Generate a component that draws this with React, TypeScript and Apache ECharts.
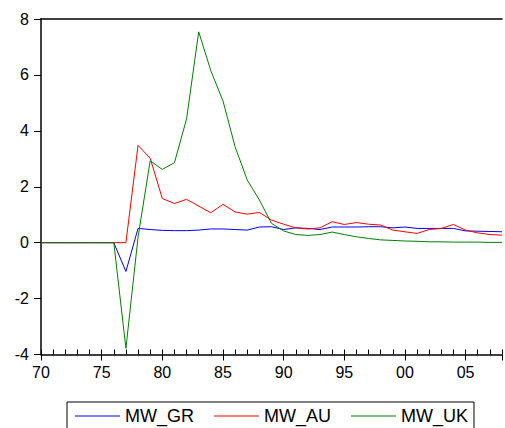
import React, { useEffect, useRef } from "react";
import * as echarts from "echarts";

const years = [
  1970, 1971, 1972, 1973, 1974, 1975, 1976, 1977, 1978, 1979,
  1980, 1981, 1982, 1983, 1984, 1985, 1986, 1987, 1988, 1989,
  1990, 1991, 1992, 1993, 1994, 1995, 1996, 1997, 1998, 1999,
  2000, 2001, 2002, 2003, 2004, 2005, 2006, 2007, 2008,
];

const mwGR = [
  0, 0, 0, 0, 0, 0, 0, -1.03, 0.51, 0.47,
  0.44, 0.43, 0.43, 0.45, 0.49, 0.49, 0.47, 0.45, 0.56, 0.57,
  0.47, 0.53, 0.51, 0.47, 0.56, 0.56, 0.56, 0.57, 0.57, 0.53,
  0.56, 0.51, 0.51, 0.51, 0.51, 0.42, 0.41, 0.40, 0.39,
];

const mwAU = [
  0, 0, 0, 0, 0, 0, 0, 0, 3.48, 3.02,
  1.58, 1.40, 1.55, 1.31, 1.07, 1.37, 1.10, 1.02, 1.08, 0.81,
  0.66, 0.53, 0.49, 0.53, 0.75, 0.65, 0.72, 0.66, 0.63, 0.45,
  0.39, 0.33, 0.47, 0.51, 0.65, 0.45, 0.35, 0.29, 0.27,
];

const mwUK = [
  0, 0, 0, 0, 0, 0, 0, -3.78, 0.2, 2.93,
  2.62, 2.86, 4.43, 7.54, 6.15, 5.07, 3.43, 2.24, 1.53, 0.69,
  0.42, 0.29, 0.26, 0.29, 0.38, 0.29, 0.21, 0.15, 0.10, 0.08,
  0.06, 0.05, 0.03, 0.03, 0.02, 0.02, 0.02, 0.01, 0.01,
];

const seriesNames = ["MW_GR", "MW_AU", "MW_UK"];
const seriesColors = ["#0000ff", "#ff0000", "#008000"];
const tickYears = [1970, 1975, 1980, 1985, 1990, 1995, 2000, 2005];
const tickLabels = ["70", "75", "80", "85", "90", "95", "00", "05"];

export default function App() {
  const ref = useRef<HTMLDivElement>(null);
  useEffect(() => {
    if (!ref.current) return;
    const chart = echarts.init(ref.current, null, { renderer: "svg" });
    const font = "Liberation Sans";
    const lineCol = "#000";
    const allData = [mwGR, mwAU, mwUK];
    chart.setOption({
      animation: false,
      backgroundColor: "#fff",
      grid: { left: 41, top: 19, right: 0, bottom: 73.5, containLabel: false },
      xAxis: [
        {
          type: "value",
          min: 1970,
          max: 2008,
          interval: 5,
          position: "bottom",
          axisLine: { show: true, onZero: false, lineStyle: { color: lineCol, width: 1.5 } },
          axisTick: { show: true, length: 6, lineStyle: { color: lineCol, width: 1 } },
          axisLabel: {
            fontSize: 16,
            fontFamily: font,
            color: "#000",
            margin: 10,
            formatter: (v: number) => {
              const i = tickYears.indexOf(v);
              return i >= 0 ? tickLabels[i] : "";
            },
          },
          splitLine: { show: false },
        },
        {
          type: "value",
          min: 1970,
          max: 2008,
          interval: 1,
          position: "bottom",
          axisLine: { show: false, onZero: false },
          axisTick: { show: true, inside: true, length: 5, lineStyle: { color: lineCol, width: 1 } },
          axisLabel: { show: false },
          splitLine: { show: false },
        },
        {
          type: "value",
          min: 1970,
          max: 2008,
          position: "top",
          axisLine: { show: true, onZero: false, lineStyle: { color: lineCol, width: 1.5 } },
          axisTick: { show: false },
          axisLabel: { show: false },
          splitLine: { show: false },
        },
      ],
      yAxis: {
        type: "value",
        min: -4,
        max: 8,
        interval: 2,
        axisLine: { show: true, onZero: false, lineStyle: { color: lineCol, width: 1.5 } },
        axisTick: { show: true, length: 7, lineStyle: { color: lineCol, width: 1 } },
        axisLabel: { fontSize: 16, fontFamily: font, color: "#000", margin: 12 },
        splitLine: { show: false },
      },
      legend: {
        top: 402,
        left: 67,
        orient: "horizontal",
        padding: [5, 6, 5, 8],
        itemGap: 20,
        itemWidth: 45,
        itemHeight: 1,
        icon: "rect",
        borderColor: "#000",
        borderWidth: 1,
        textStyle: { fontSize: 18, fontFamily: font, color: "#000" },
        data: seriesNames,
      },
      series: seriesNames.map((name, k) => ({
        name,
        type: "line",
        xAxisIndex: 0,
        symbol: "none",
        color: seriesColors[k],
        lineStyle: { width: 1, color: seriesColors[k] },
        data: years.map((y, i) => [y, allData[k][i]]),
      })),
    });
    return () => chart.dispose();
  }, []);
  return (
    <div
      ref={ref}
      style={{ position: "fixed", left: 0, top: 0, width: 505, height: 428, background: "#fff" }}
    />
  );
}
